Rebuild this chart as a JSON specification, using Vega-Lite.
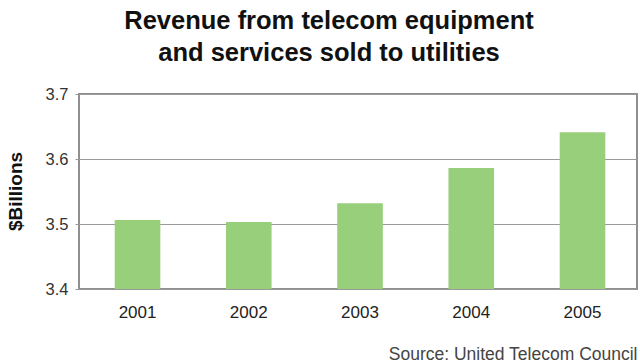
{
  "$schema": "https://vega.github.io/schema/vega-lite/v6.json",
  "width": 558,
  "height": 195,
  "autosize": {"type": "none"},
  "padding": {"left": 79, "top": 94, "right": 3, "bottom": 75},
  "background": "white",
  "title": {
    "text": ["Revenue from telecom equipment", "and services sold to utilities"],
    "font": "Liberation Sans",
    "fontSize": 25.5,
    "fontWeight": "bold",
    "lineHeight": 32,
    "color": "#111",
    "anchor": "middle",
    "dx": -29,
    "offset": 20
  },
  "data": {
    "values": [
      {"year": "2001", "revenue": 3.506},
      {"year": "2002", "revenue": 3.503},
      {"year": "2003", "revenue": 3.532},
      {"year": "2004", "revenue": 3.586},
      {"year": "2005", "revenue": 3.641}
    ]
  },
  "mark": {"type": "bar", "color": "#97cf7b", "clip": true},
  "encoding": {
    "x": {
      "field": "year",
      "type": "ordinal",
      "scale": {"paddingInner": 0.59, "paddingOuter": 0.303, "align": 0.53},
      "axis": {
        "title": "Source: United Telecom Council",
        "titleAnchor": "end",
        "titleAlign": "right",
        "titleX": 558,
        "titleY": 70,
        "titleBaseline": "alphabetic",
        "titleFont": "Liberation Sans",
        "titleFontSize": 17.5,
        "titleFontWeight": "normal",
        "titleColor": "#444",
        "labelAngle": 0,
        "labelFont": "Liberation Sans",
        "labelFontSize": 17,
        "labelColor": "#222",
        "labelPadding": 15,
        "ticks": false,
        "domain": false
      }
    },
    "y": {
      "field": "revenue",
      "type": "quantitative",
      "scale": {"domain": [3.4, 3.7], "zero": false, "nice": false},
      "axis": {
        "title": "$Billions",
        "titleFont": "Liberation Sans",
        "titleFontSize": 19,
        "titleFontWeight": "bold",
        "titleColor": "#111",
        "titleAngle": -90,
        "titleX": -64,
        "titleY": 97,
        "titleAlign": "center",
        "titleBaseline": "middle",
        "values": [3.4, 3.5, 3.6, 3.7],
        "format": ".1f",
        "labelFont": "Liberation Sans",
        "labelFontSize": 16.5,
        "labelColor": "#333",
        "labelPadding": 7,
        "ticks": true,
        "tickSize": 4,
        "tickColor": "#999",
        "domain": false,
        "grid": true,
        "gridColor": "#999",
        "gridWidth": 1
      }
    }
  },
  "config": {
    "view": {"stroke": "#8f8f8f", "strokeWidth": 2}
  }
}
